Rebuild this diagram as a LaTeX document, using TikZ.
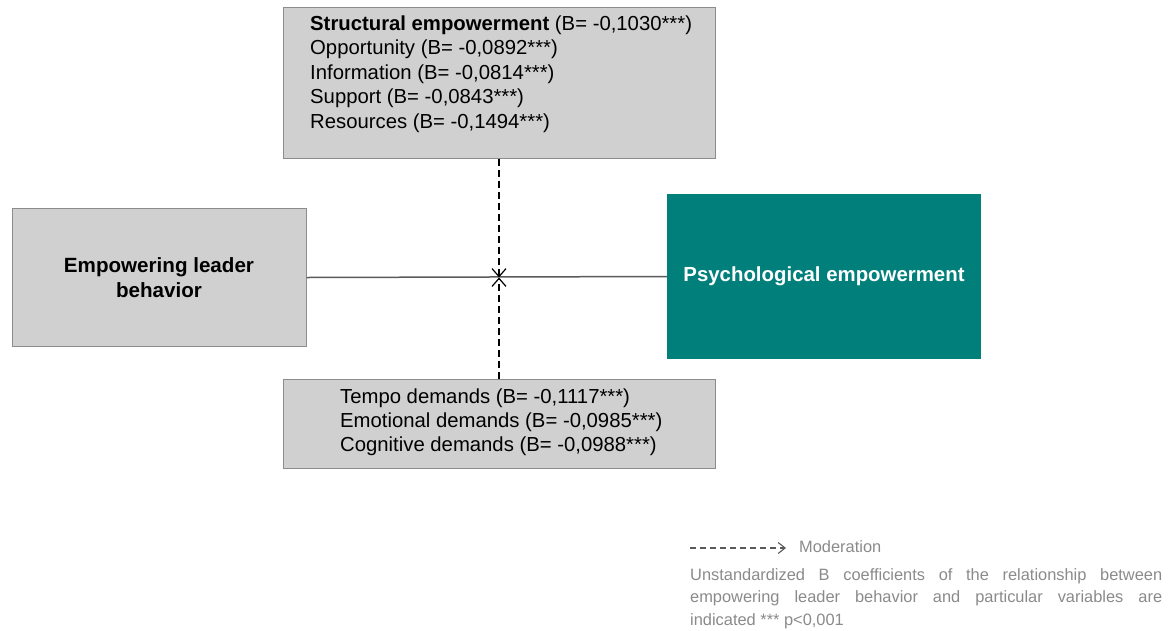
\documentclass[tikz,border=0pt]{standalone}
\usepackage{fontspec}
\setmainfont{Liberation Sans}
\usetikzlibrary{arrows.meta}
\definecolor{boxgray}{HTML}{D0D0D0}
\definecolor{edgegray}{HTML}{8C8C8C}
\definecolor{pegreen}{HTML}{007F7B}
\definecolor{notegray}{HTML}{8A8A8A}
\definecolor{linkgray}{HTML}{5A5A5A}
\begin{document}
\begin{tikzpicture}[x=1pt,y=-1pt,
  greybox/.style={draw=edgegray, fill=boxgray, line width=1pt, inner sep=0pt},
  bodytext/.style={inner sep=0pt, align=left},
  moder/.style={dashed, dash pattern=on 7pt off 4pt, line width=1.1pt, black,
    -{Straight Barb[length=8pt,width=14pt,line width=1.2pt]}},
  note/.style={inner sep=0pt, text=notegray, font=\fontsize{16.4}{22.5}\selectfont}]
\useasboundingbox (0,0) rectangle (1172,630);

% boxes
\node[greybox, minimum width=432pt, minimum height=151pt] (se) at (499,82.5) {};
\node[greybox, minimum width=294pt, minimum height=138pt, align=center,
      font=\bfseries\fontsize{20.6}{25}\selectfont] (elb) at (159,277.5)
      {Empowering leader\\behavior};
\node[fill=pegreen, minimum width=314pt, minimum height=165pt, inner sep=0pt,
      text=white, font=\bfseries\fontsize{20.4}{24}\selectfont] (pe) at (824,276.5)
      {Psychological empowerment};
\node[greybox, minimum width=432pt, minimum height=89pt] (jd) at (499,423.5) {};

% box contents (anchored on the baseline of the last line)
\node[bodytext, anchor=base west, font=\fontsize{20.3}{24.5}\selectfont] (setext) at (310,128)
  {\textbf{Structural empowerment} (B= -0,1030***)\\
   Opportunity (B= -0,0892***)\\
   Information (B= -0,0814***)\\
   Support (B= -0,0843***)\\
   Resources (B= -0,1494***)};
\node[bodytext, anchor=base west, font=\fontsize{20.3}{24}\selectfont] (jdtext) at (340,451)
  {Tempo demands (B= -0,1117***)\\
   Emotional demands (B= -0,0985***)\\
   Cognitive demands (B= -0,0988***)};

% main relationship and the two moderating paths
\draw[linkgray, line width=1.5pt] (elb.east) -- (pe.west);
\coordinate (cross) at (se.south |- elb.east);
\draw[moder] (se.south) -- (cross);
\draw[moder] (jd.north) -- (cross);

% legend
\coordinate (legA) at (690,548);
\coordinate (legB) at (786,548);
\draw[dashed, dash pattern=on 6pt off 4pt, line width=1.1pt, linkgray,
      -{Straight Barb[length=7pt,width=11pt,line width=1.1pt]}] (legA) -- (legB);
\node[note, anchor=west] (legtext) at (799,547) {Moderation};
\node[note, anchor=north west, text width=472pt, align=justify] (notetext) at (690,568)
  {Unstandardized B coefficients of the relationship between\linebreak
   empowering leader behavior and particular variables are\linebreak
   indicated *** p<0,001};
\end{tikzpicture}
\end{document}
